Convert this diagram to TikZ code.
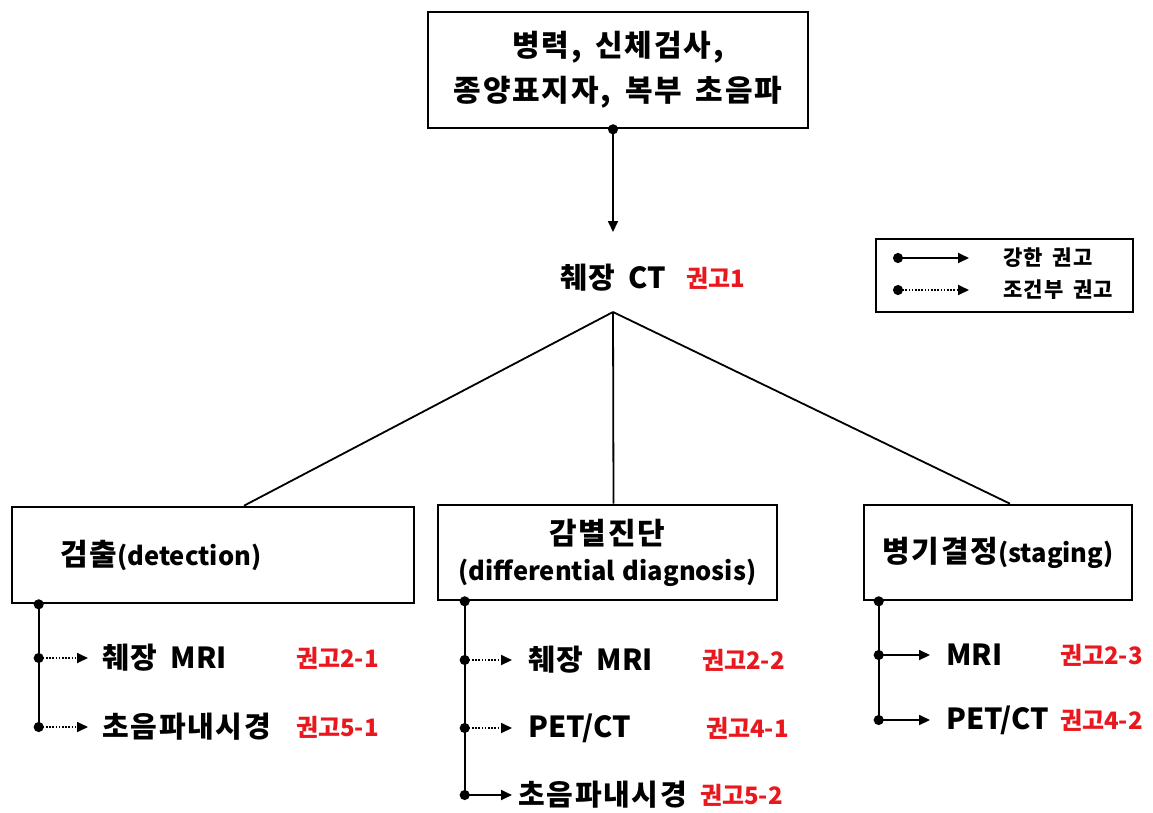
\documentclass[tikz,border=0pt]{standalone}
\usepackage{fontspec}
\setmainfont{Noto Sans CJK KR}
\newfontfamily\krfont{Noto Sans CJK KR}[LetterSpace=6, WordSpace=1.6]
\usetikzlibrary{arrows.meta}
\definecolor{recred}{RGB}{232,24,30}
\tikzset{
  box/.style={draw, line width=2.6pt, inner sep=0pt, align=center},
  lbl/.style={font=\fontsize{29}{40}\selectfont\bfseries, inner sep=0pt, anchor=west},
  rec/.style={font=\fontsize{24}{28}\selectfont\bfseries, text=recred, inner sep=0pt, anchor=west},
  keytext/.style={font=\fontsize{21}{24}\selectfont\krfont\bfseries, inner sep=0pt, anchor=west},
  strong/.style={line width=1.8pt, {Circle[length=10pt]}-{Triangle[length=11pt,width=10pt]}, shorten <=-5pt},
  weak/.style={strong, dash pattern=on 1.6pt off 1.6pt},
  trunk/.style={line width=1.8pt, {Circle[length=10pt]}-, shorten <=-5pt},
  branch/.style={line width=1.8pt},
}
\newcommand{\kr}[1]{{\krfont #1}}
\newcommand{\boxkr}[1]{{\fontsize{30}{36}\selectfont\krfont #1}}
\begin{document}
\begin{tikzpicture}[x=1pt,y=-1pt]
\useasboundingbox (0,0) rectangle (1153,812);

% top box and CT
\node[box, minimum width=380pt, minimum height=116pt, font=\fontsize{30}{45}\selectfont\krfont\bfseries] (hist) at (618,70) {병력, 신체검사,\\종양표지자, 복부 초음파};
\coordinate (ctarr) at (613,232);
\draw[strong] (hist.south -| ctarr) -- (ctarr);
\node[lbl] (ct) at (560,278) {\kr{췌장 }CT};
\node[rec] (ctrec) at (686,278) {권고1};
\coordinate (apex) at (613,312);

% legend
\node[draw, line width=1.8pt, minimum width=257pt, minimum height=73pt] (key) at (1004.5,275.5) {};
\node[keytext] (key1) at (1003,258) {강한 권고};
\node[keytext] (key2) at (1003,290) {조건부 권고};
\coordinate (k1) at (898,258);
\coordinate (k2) at (898,290);
\draw[strong] (k1) -- ([xshift=-34pt]key1.west);
\draw[weak] (k2) -- ([xshift=-34pt]key2.west);

% three boxes
\node[box, minimum width=402pt, minimum height=96pt] (det) at (213,555) {};
\node[inner sep=0pt, anchor=west, font=\fontsize{25.5}{36}\selectfont\bfseries] (dettxt) at (60,555) {\boxkr{검출}(detection)};
\node[box, minimum width=339pt, minimum height=95pt, font=\fontsize{25.5}{36}\selectfont\bfseries] (diff) at (607.5,552.5) {\boxkr{감별진단}\\(differential\hspace{0.3em}diagnosis)};
\node[box, minimum width=268pt, minimum height=95pt, font=\fontsize{25.5}{36}\selectfont\bfseries] (stag) at (998,552.5) {\boxkr{병기결정}(staging)};

\draw[branch] (apex) -- ([xshift=31pt]det.north);
\draw[branch] (apex) -- ([xshift=6pt]diff.north);
\draw[branch] (apex) -- ([xshift=12pt]stag.north);

% detection
\node[lbl] (dmri) at (102,658) {\kr{췌장 }MRI};
\node[lbl] (deus) at (102,727) {\kr{초음파내시경}};
\node[rec] (dmrirec) at (296,658) {권고2-1};
\node[rec] (deusrec) at (296,727) {권고5-1};
\coordinate (dtop) at ([xshift=28pt]det.south west);
\draw[trunk] (dtop) -- (dtop |- deus);
\draw[weak] (dtop |- dmri) -- ([xshift=-14pt]dmri.west);
\draw[weak] (dtop |- deus) -- ([xshift=-14pt]deus.west);

% differential diagnosis
\node[lbl] (fmri) at (528,660) {\kr{췌장 }MRI};
\node[lbl] (fpet) at (528,728) {PET/CT};
\node[lbl] (feus) at (518,795) {\kr{초음파내시경}};
\node[rec] (fmrirec) at (702,660) {권고2-2};
\node[rec] (fpetrec) at (706,728) {권고4-1};
\node[rec] (feusrec) at (700,795) {권고5-2};
\coordinate (ftop) at ([xshift=28pt]diff.south west);
\draw[trunk] (ftop) -- (ftop |- feus);
\draw[weak] (ftop |- fmri) -- ([xshift=-16pt]fmri.west);
\draw[weak] (ftop |- fpet) -- ([xshift=-16pt]fpet.west);
\draw[strong] (ftop |- feus) -- ([xshift=-6pt]feus.west);

% staging
\node[lbl] (smri) at (946,655) {MRI};
\node[lbl] (spet) at (946,720) {PET/CT};
\node[rec] (smrirec) at (1060,655) {권고2-3};
\node[rec] (spetrec) at (1060,720) {권고4-2};
\coordinate (stop) at ([xshift=16pt]stag.south west);
\draw[trunk] (stop) -- (stop |- spet);
\draw[strong] (stop |- smri) -- ([xshift=-16pt]smri.west);
\draw[strong] (stop |- spet) -- ([xshift=-16pt]spet.west);
\end{tikzpicture}
\end{document}
